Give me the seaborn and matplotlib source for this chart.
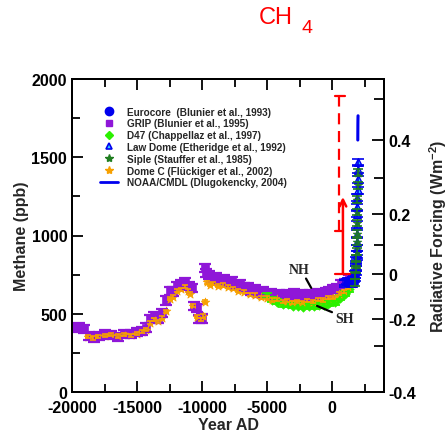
import numpy as np
import pandas as pd
import seaborn as sns
import matplotlib.pyplot as plt
from matplotlib.lines import Line2D
from matplotlib.ticker import MultipleLocator

# GRIP (Blunier et al., 1995)
grip_year = [-19900, -19500, -19100, -18700, -18300, -17900, -17500, -17000, -16500, -16000,
             -15500, -15000, -14600, -14300, -14000, -13700, -13400, -13100, -12800, -12500,
             -12200, -11900, -11600, -11300, -11000, -10800, -10600, -10400, -10200, -10000,
             -9800, -9700, -9500, -9200, -8900, -8600, -8300, -8000, -7700, -7400,
             -7100, -6800, -6500, -6200, -5900, -5600, -5300, -5000, -4700, -4400,
             -4100, -3800, -3500, -3200, -2900, -2600, -2300, -2000, -1700, -1400,
             -1100, -800, -500, -200, 100, 400, 700, 1000, 1300]
grip_ppb = [410, 415, 402, 360, 348, 356, 368, 364, 352, 372,
            368, 382, 390, 412, 468, 484, 466, 505, 585, 645,
            642, 675, 688, 700, 676, 662, 550, 536, 468, 470,
            790, 760, 745, 728, 735, 716, 720, 704, 708, 686,
            690, 672, 670, 648, 655, 636, 642, 628, 632, 618,
            624, 612, 626, 618, 634, 622, 628, 612, 624, 618,
            630, 626, 640, 642, 658, 664, 690, 698, 722]

# Dome C (Flückiger et al., 2002)
domec_year = [-18800, -18400, -18000, -17500, -17000, -16500, -16000, -15500, -15000, -14600,
              -14300, -14000, -13700, -13400, -13100, -12800, -12500, -12200, -11900, -11600,
              -11300, -11100, -10900, -10700, -10400, -10100, -9900, -9800, -9600, -9400,
              -9150, -8800, -8400, -8000, -7600, -7200, -6800, -6300, -5900, -5500,
              -5000, -4600, -4200, -3800, -3500, -3100, -2700, -2300, -1900, -1500,
              -1100, -700, -300, 100, 500, 900, 1200, 1500]
domec_ppb = [352, 345, 356, 360, 366, 358, 368, 362, 372, 384,
             398, 442, 466, 452, 476, 515, 595, 608, 648, 656,
             672, 648, 628, 552, 480, 466, 486, 578, 702, 686,
             694, 680, 684, 672, 662, 646, 642, 624, 620, 606,
             602, 588, 592, 580, 582, 574, 580, 574, 584, 578,
             590, 588, 602, 604, 628, 640, 668, 690]

# D47 (Chappellaz et al., 1997)
d47_year = [-5000, -4600, -4200, -3800, -3400, -3000, -2600, -2200, -1800, -1400,
            -1000, -600, -200, 200, 600, 1000, 1300]
d47_ppb = [615, 588, 578, 562, 560, 550, 552, 545, 550, 548,
           556, 555, 568, 575, 602, 628, 655]

# Eurocore (Blunier et al., 1993)
euro_year = [1000, 1150, 1300, 1450, 1550, 1650, 1720, 1770, 1810, 1850, 1880, 1900]
euro_ppb = [700, 705, 712, 715, 712, 718, 728, 742, 760, 790, 820, 860]

# Law Dome (Etheridge et al., 1992)
law_year = [1010, 1200, 1400, 1550, 1650, 1750, 1800, 1850, 1880, 1900, 1910, 1920,
            1930, 1940, 1950, 1955, 1960, 1965, 1970, 1975, 1980]
law_ppb = [695, 705, 700, 695, 710, 730, 750, 800, 840, 880, 920, 960,
           1010, 1070, 1140, 1180, 1240, 1290, 1360, 1420, 1470]

# Siple (Stauffer et al., 1985)
siple_year = [1750, 1780, 1820, 1850, 1870, 1890, 1910, 1920, 1935, 1945, 1955, 1965, 1975]
siple_ppb = [700, 745, 780, 815, 855, 900, 960, 1010, 1080, 1150, 1230, 1320, 1400]

# NOAA/CMDL (Dlugokencky, 2004)
noaa_year = [1984, 1988, 1992, 1996, 2000, 2004]
noaa_ppb = [1610, 1665, 1715, 1740, 1755, 1765]

# right axis: forcing labels and where they sit in ppb
rf_major = ['0.4', '0.2', '0', '-0.2', '-0.4']
rf_major_ppb = [1610, 1137, 754, 466, 0]
rf_minor_ppb = [1872, 1367, 939, 594, 294]

# red arrows
arrow_dash_year = 540
arrow_solid_year = 840
arrow_ppb = [754, 1029, 1246, 1891]

sns.set_theme(style='ticks')
plt.rcParams['font.family'] = ['Liberation Sans', 'DejaVu Sans']
plt.rcParams['font.weight'] = 'bold'
plt.rcParams['mathtext.default'] = 'regular'
plt.rcParams['axes.unicode_minus'] = False

purple = '#8f17d8'
orange = '#f7a000'
lime = '#2bf000'
dgreen = '#1f7d1f'
blue = '#0000ee'
cyan = '#33ccff'

fig = plt.figure(figsize=(4.48, 4.35), dpi=100)
ax = fig.add_axes([72 / 448, 1 - 393 / 435, 312 / 448, 313 / 435])

grip = pd.DataFrame({'year': grip_year, 'ppb': grip_ppb})
domec = pd.DataFrame({'year': domec_year, 'ppb': domec_ppb})
d47 = pd.DataFrame({'year': d47_year, 'ppb': d47_ppb})
euro = pd.DataFrame({'year': euro_year, 'ppb': euro_ppb})
law = pd.DataFrame({'year': law_year, 'ppb': law_ppb})
siple = pd.DataFrame({'year': siple_year, 'ppb': siple_ppb})
noaa = pd.DataFrame({'year': noaa_year, 'ppb': noaa_ppb})

# error bars first, then markers
ax.errorbar(grip.year, grip.ppb, yerr=26, fmt='none', ecolor=purple, elinewidth=1.6, capsize=4.5, capthick=1.6)
sns.scatterplot(data=grip, x='year', y='ppb', marker='s', s=36, color=purple, edgecolor=purple, ax=ax)
ax.errorbar(d47.year, d47.ppb, yerr=16, fmt='none', ecolor=lime, elinewidth=1.3, capsize=3.5, capthick=1.3)
sns.scatterplot(data=d47, x='year', y='ppb', marker='D', s=24, color=lime, edgecolor=lime, ax=ax)
ax.errorbar(domec.year, domec.ppb, yerr=10, fmt='none', ecolor=orange, elinewidth=1.2, capsize=2.5, capthick=1.2)
sns.scatterplot(data=domec, x='year', y='ppb', marker='*', s=42, color=orange, edgecolor=orange, ax=ax)

ax.errorbar(law.year, law.ppb, yerr=22, fmt='none', ecolor=blue, elinewidth=1.2, capsize=4.5, capthick=1.2)
ax.errorbar(euro.year, euro.ppb, yerr=15, fmt='none', ecolor=blue, elinewidth=1.2, capsize=4, capthick=1.2)
ax.errorbar(siple.year, siple.ppb, yerr=22, fmt='none', ecolor=dgreen, elinewidth=1.2, capsize=3.5, capthick=1.2)
sns.scatterplot(data=euro, x='year', y='ppb', marker='o', s=24, color=blue, edgecolor=blue, ax=ax)
sns.scatterplot(data=law, x='year', y='ppb', marker='^', s=30, color=cyan, edgecolor=blue, linewidth=1, ax=ax)
sns.scatterplot(data=siple, x='year', y='ppb', marker='*', s=42, color=dgreen, edgecolor=dgreen, ax=ax)
sns.lineplot(data=noaa, x='year', y='ppb', color=blue, lw=2.2, ax=ax)

# red arrows
ax.plot([arrow_dash_year, arrow_dash_year], [arrow_ppb[1], arrow_ppb[3]], color='red', lw=1.6, ls=(0, (5, 3)))
ax.plot([230, 1000], [arrow_ppb[3], arrow_ppb[3]], color='red', lw=1.6)
ax.plot([230, arrow_solid_year], [arrow_ppb[1], arrow_ppb[1]], color='red', lw=1.6)
ax.plot([230, 1380], [arrow_ppb[0], arrow_ppb[0]], color='red', lw=1.6)
ax.annotate('', xy=(arrow_solid_year, arrow_ppb[2]), xytext=(arrow_solid_year, arrow_ppb[0]),
            arrowprops=dict(arrowstyle='->', color='red', lw=1.8, mutation_scale=12, shrinkA=0, shrinkB=0))

# NH / SH
ax.text(-2500, 780, 'NH', family=['Liberation Serif'], fontsize=10, fontweight='bold', ha='center', va='center')
ax.plot([-2000, -1600], [725, 665], color='black', lw=1.6)
ax.text(1000, 470, 'SH', family=['Liberation Serif'], fontsize=10, fontweight='bold', ha='center', va='center')
ax.plot([-1150, 0], [550, 510], color='black', lw=1.6)

ax.set_xlim(-20000, 4000)
ax.set_ylim(0, 2000)
ax.xaxis.set_major_locator(MultipleLocator(5000))
ax.xaxis.set_minor_locator(MultipleLocator(2500))
ax.yaxis.set_major_locator(MultipleLocator(500))
ax.yaxis.set_minor_locator(MultipleLocator(250))
ax.tick_params(which='both', direction='in', top=True, right=False, width=1.3, labelsize=11.5, colors='black')
ax.tick_params(which='major', length=8)
ax.tick_params(which='minor', length=5.5)
ax.tick_params(axis='x', which='major', pad=6)
for lab in ax.get_xticklabels() + ax.get_yticklabels():
    lab.set_fontweight('bold')
ax.set_xlabel('Year AD', fontsize=11.5, fontweight='bold', labelpad=1)
ax.set_ylabel('Methane (ppb)', fontsize=11.5, fontweight='bold', labelpad=2)
for sp in ax.spines.values():
    sp.set_linewidth(1.4)
    sp.set_color('black')

ax2 = ax.twinx()
ax2.set_ylim(0, 2000)
ax2.set_yticks(rf_major_ppb)
ax2.set_yticklabels(rf_major, fontweight='bold')
ax2.set_yticks(rf_minor_ppb, minor=True)
ax2.tick_params(which='both', direction='in', width=1.3, labelsize=11.5, colors='black')
ax2.tick_params(which='major', length=9)
ax2.tick_params(which='minor', length=7)
ax2.set_ylabel('Radiative Forcing (Wm$^{-2}$)', fontsize=11.5, fontweight='bold', labelpad=8)
for sp in ax2.spines.values():
    sp.set_linewidth(1.4)
    sp.set_color('black')

handles = [
    Line2D([], [], ls='none', marker='o', ms=6, color=blue),
    Line2D([], [], ls='none', marker='s', ms=4.5, color=purple),
    Line2D([], [], ls='none', marker='D', ms=4.5, color=lime),
    Line2D([], [], ls='none', marker='^', ms=5, mfc=cyan, mec=blue, mew=1.2),
    Line2D([], [], ls='none', marker='*', ms=6, color=dgreen),
    Line2D([], [], ls='none', marker='*', ms=6, color=orange),
    Line2D([], [], color=blue, lw=2),
]
labels = ['Eurocore  (Blunier et al., 1993)', 'GRIP (Blunier et al., 1995)',
          'D47 (Chappellaz et al., 1997)', 'Law Dome (Etheridge et al., 1992)',
          'Siple (Stauffer et al., 1985)', 'Dome C (Flückiger et al., 2002)',
          'NOAA/CMDL (Dlugokencky, 2004)']
leg = ax.legend(handles, labels, loc='upper left', bbox_to_anchor=(0.09, 0.912), frameon=False,
                borderpad=0, borderaxespad=0, handlelength=1.75, handletextpad=0.9,
                labelspacing=0.18, prop={'weight': 'bold', 'size': 7.2})

# title: CH with a large, lowered 4
fig.text(259 / 448, 1 - 24 / 435, 'CH', color='red', fontsize=17, fontweight='normal', ha='left', va='baseline')
fig.text(301 / 448, 1 - 33 / 435, '4', color='red', fontsize=14, fontweight='normal', ha='left', va='baseline')

fig.savefig('out.png', dpi=100)
